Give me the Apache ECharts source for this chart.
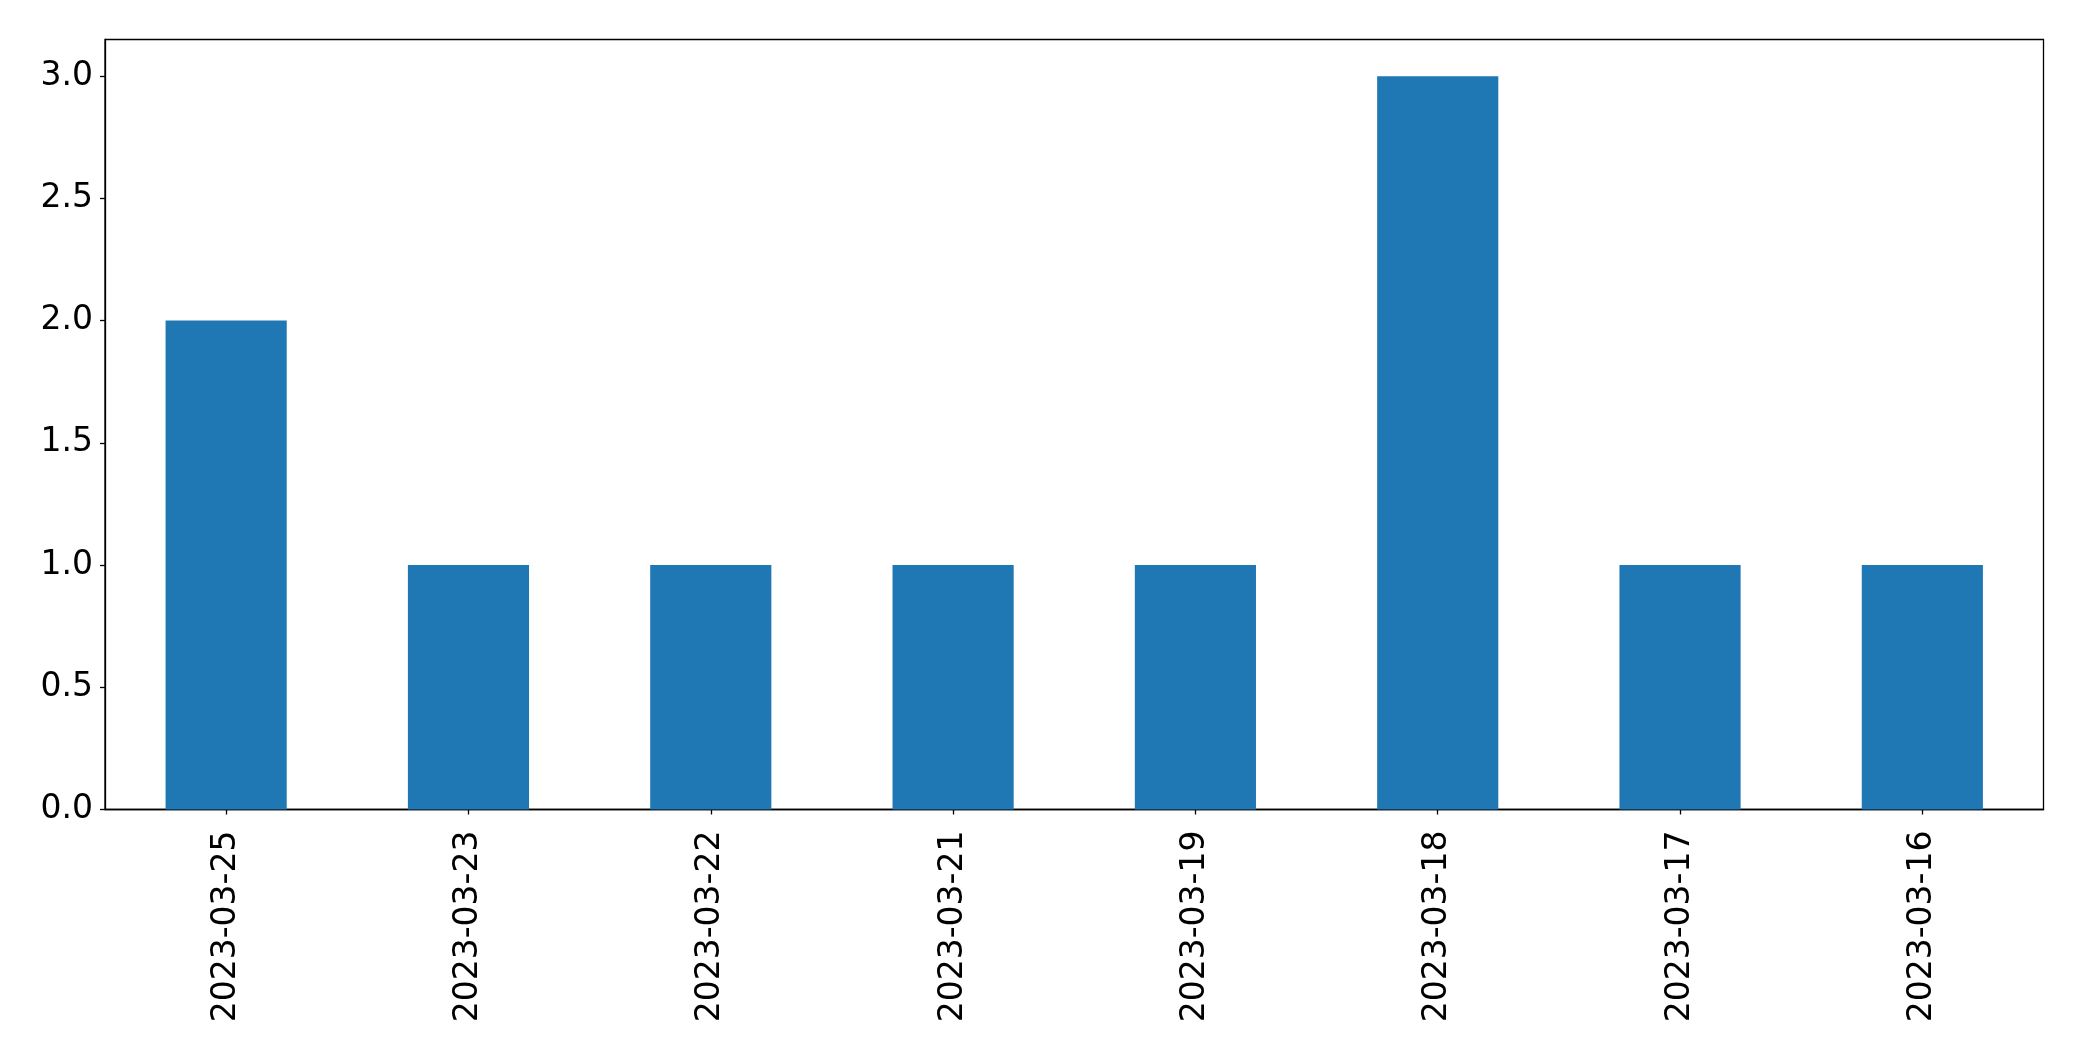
<!DOCTYPE html>
<html>
<head>
<meta charset="utf-8">
<script src="https://cdn.jsdelivr.net/npm/echarts@6/dist/echarts.min.js"></script>
<style>
html,body{margin:0;padding:0;background:#fff;}
#chart{width:2082px;height:1061px;}
</style>
</head>
<body>
<div id="chart"></div>
<script>
const categories = ['2023-03-25','2023-03-23','2023-03-22','2023-03-21','2023-03-19','2023-03-18','2023-03-17','2023-03-16'];
const counts = [2, 1, 1, 1, 1, 3, 1, 1];
const yTicks = [0, 0.5, 1.0, 1.5, 2.0, 2.5, 3.0];

const chart = echarts.init(document.getElementById('chart'), null, {renderer: 'canvas'});
const font = 'DejaVu Sans';
chart.setOption({
  animation: false,
  backgroundColor: '#ffffff',
  grid: {
    left: 105, top: 39.5, right: 38.5, bottom: 251.5,
    show: true, borderColor: '#000', borderWidth: 1.3, backgroundColor: 'transparent'
  },
  xAxis: {
    type: 'category',
    data: categories,
    boundaryGap: true,
    axisLine: {show: true, lineStyle: {color: '#000', width: 1.3}},
    axisTick: {show: true, alignWithLabel: true, length: 5, lineStyle: {color: '#000', width: 1.3}},
    axisLabel: {rotate: 90, margin: 21, fontFamily: font, fontSize: 33, color: '#000', interval: 0},
    splitLine: {show: false}
  },
  yAxis: {
    type: 'value',
    min: 0, max: 3.15,
    axisLine: {show: true, lineStyle: {color: '#000', width: 1.3}},
    axisTick: {show: true, length: 5, customValues: yTicks, lineStyle: {color: '#000', width: 1.3}},
    axisLabel: {
      margin: 12, fontFamily: font, fontSize: 33, color: '#000',
      customValues: yTicks,
      formatter: function (v) { return Number(v).toFixed(1); }
    },
    splitLine: {show: false}
  },
  series: [{
    type: 'bar',
    data: counts,
    barWidth: '50%',
    itemStyle: {color: '#1f77b4'}
  }]
});
</script>
</body>
</html>
